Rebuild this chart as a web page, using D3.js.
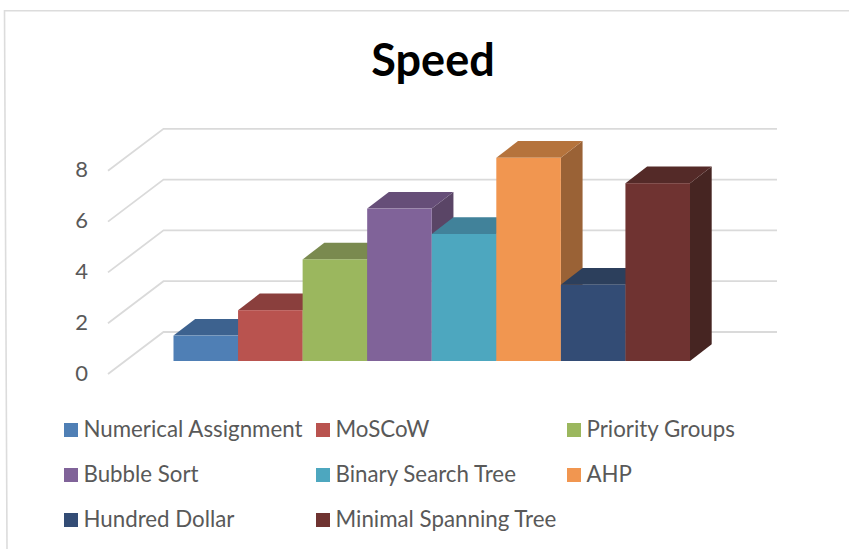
<!DOCTYPE html>
<html>
<head>
<meta charset="utf-8">
<script src="https://cdn.jsdelivr.net/npm/d3@7"></script>
<style>
  html, body { margin: 0; padding: 0; background: #fff; }
  svg { display: block; }
  text { font-family: Lato, "Open Sans", sans-serif; }
</style>
</head>
<body>
<div id="chart"></div>
<script>
//chart values
const categories = ['Numerical Assignment', 'MoSCoW', 'Priority Groups', 'Bubble Sort', 'Binary Search Tree', 'AHP', 'Hundred Dollar', 'Minimal Spanning Tree'];
const speedValues = [1, 2, 4, 6, 5, 8, 3, 7];
const tickValues = [0, 2, 4, 6, 8];

//face colors
const frontColors = ['#4f7fb5', '#b9534f', '#9bb75e', '#806399', '#4da7bf', '#f19650', '#334c75', '#6f3331'];
const topColors = ['#3d628f', '#8a3f3d', '#7a8a4f', '#664e78', '#41829a', '#b5733c', '#2c3f5c', '#542a28'];
const sideColors = ['#35557c', '#773633', '#697843', '#5a4566', '#38707f', '#9a6236', '#263650', '#462522'];

const svgSize = {width: 849, height: 549};
const depth = {x: 21.7, y: 16.7};

const svg = d3.select('#chart').append('svg')
  .attr('width', svgSize.width)
  .attr('height', svgSize.height);

//frame, slightly skewed like in the reference
svg.append('path')
  .attr('d', 'M849,10.7 L4.5,10.7 L7,549')
  .attr('fill', 'none')
  .attr('stroke', '#dcdcdc')
  .attr('stroke-width', 1.6);

//title
svg.append('text')
  .attr('x', 433)
  .attr('y', 76)
  .attr('text-anchor', 'middle')
  .attr('font-size', 45)
  .attr('font-weight', 700)
  .attr('fill', '#000')
  .text('Speed');

//scales, y is measured on the front plane of the bars
const frontBase = 361;
const unitHeight = 25.4;
const y = d3.scaleLinear().domain([0, 8]).range([frontBase, frontBase - 8 * unitHeight]);
const x = d3.scaleBand().domain(categories).range([173.5, 690]);

//offsets of the floor corners against the front plane of the bars
const wallOffset = -29;
const leftOffset = 13;

//gridlines on back wall and left wall
const grid = svg.append('g').attr('id', 'grid');
grid.selectAll('path')
  .data(tickValues)
  .join('path')
  .attr('d', d => `M108,${y(d) + leftOffset} L163.5,${y(d) + wallOffset} L777,${y(d) + wallOffset}`)
  .attr('fill', 'none')
  .attr('stroke', '#dadada')
  .attr('stroke-width', 1.8);

//y axis labels
const axis = svg.append('g')
  .attr('transform', `translate(88,${leftOffset - 1})`)
  .call(d3.axisLeft(y).tickValues(tickValues).tickSize(0).tickPadding(0));
axis.select('.domain').remove();
axis.selectAll('text')
  .style('font-family', 'Lato, "Open Sans", sans-serif')
  .attr('font-size', 22)
  .attr('fill', '#595959');

//bars, drawn left to right so the next bar covers the side of the one before
const bars = svg.append('g').attr('id', 'bars')
  .selectAll('g')
  .data(categories)
  .join('g');

bars.append('path')
  .attr('fill', (d, i) => sideColors[i])
  .attr('d', (d, i) => {
    const r = x(d) + x.bandwidth();
    return `M${r},${y(speedValues[i])} L${r + depth.x},${y(speedValues[i]) - depth.y} L${r + depth.x},${y(0) - depth.y} L${r},${y(0)} Z`;
  });

bars.append('path')
  .attr('fill', (d, i) => topColors[i])
  .attr('d', (d, i) => {
    const l = x(d), r = l + x.bandwidth(), t = y(speedValues[i]);
    return `M${l},${t} L${l + depth.x},${t - depth.y} L${r + depth.x},${t - depth.y} L${r},${t} Z`;
  });

bars.append('rect')
  .attr('x', d => x(d))
  .attr('y', (d, i) => y(speedValues[i]))
  .attr('width', x.bandwidth())
  .attr('height', (d, i) => y(0) - y(speedValues[i]))
  .attr('fill', (d, i) => frontColors[i]);

//legend, 3 columns and 3 rows
const legendColumns = [64, 316, 567];
const legendRows = [423, 468, 513];
const legend = svg.append('g').attr('id', 'legend')
  .selectAll('g')
  .data(categories)
  .join('g')
  .attr('transform', (d, i) => `translate(${legendColumns[i % 3]},${legendRows[Math.floor(i / 3)]})`);

legend.append('rect')
  .attr('width', 14)
  .attr('height', 14)
  .attr('fill', (d, i) => frontColors[i]);

legend.append('text')
  .attr('x', 19.5)
  .attr('y', 14)
  .attr('font-size', 22.3)
  .attr('fill', '#595959')
  .text(d => d);
</script>
</body>
</html>
